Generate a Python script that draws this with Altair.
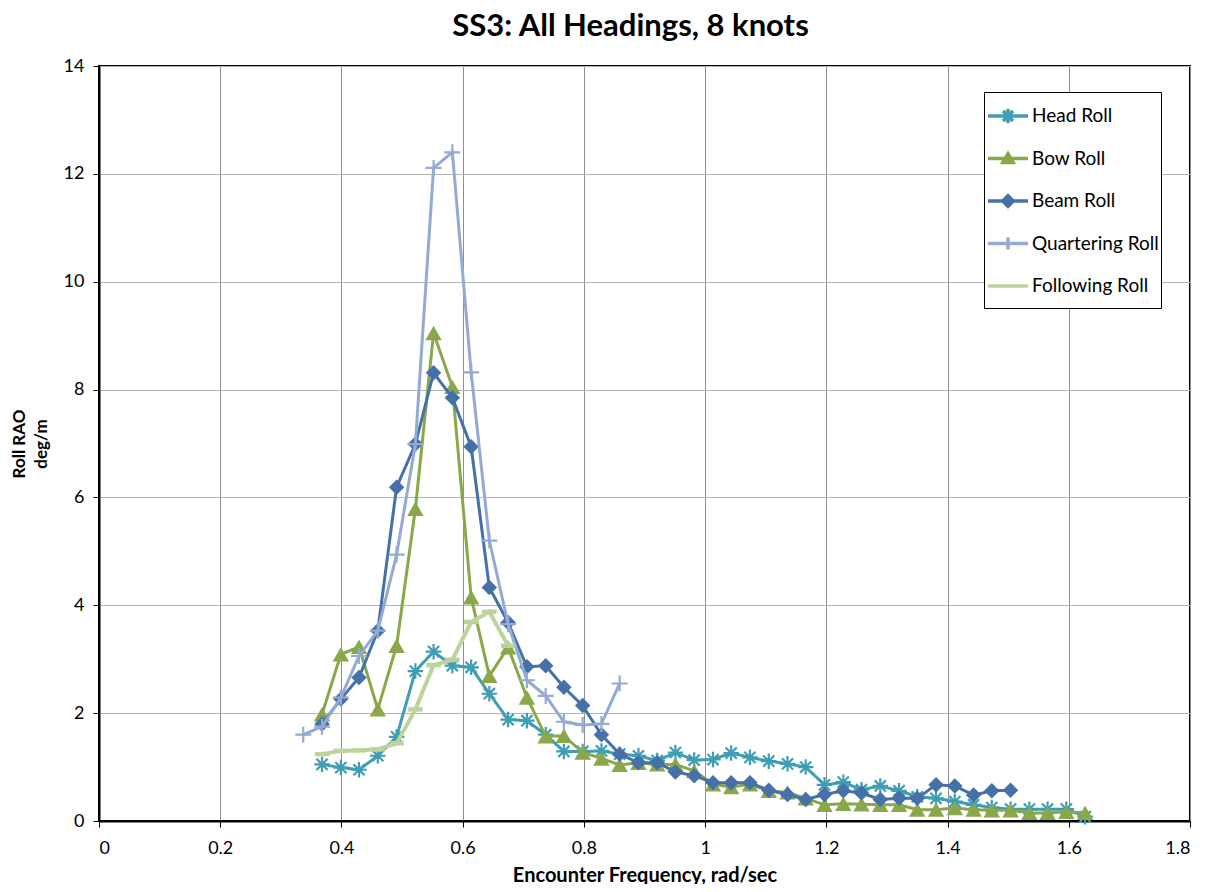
import altair as alt
import pandas as pd

# ---------------- data ----------------
series_names = ["Head Roll", "Bow Roll", "Beam Roll", "Quartering Roll", "Following Roll"]
series_colors = ["#3F9DB4", "#8AA74A", "#4571A8", "#94AAD3", "#BCD49C"]

head_freq = [0.368, 0.399, 0.429, 0.460, 0.491, 0.522, 0.552, 0.583, 0.614, 0.644,
             0.675, 0.706, 0.737, 0.767, 0.798, 0.829, 0.859, 0.890, 0.921, 0.951,
             0.982, 1.013, 1.043, 1.074, 1.105, 1.136, 1.166, 1.197, 1.228, 1.258,
             1.289, 1.320, 1.350, 1.381, 1.412, 1.443, 1.473, 1.504, 1.535, 1.565,
             1.596, 1.627]
head_rao = [1.05, 0.99, 0.95, 1.21, 1.56, 2.78, 3.14, 2.88, 2.85, 2.36,
            1.88, 1.86, 1.60, 1.29, 1.29, 1.30, 1.24, 1.21, 1.12, 1.27,
            1.13, 1.14, 1.26, 1.18, 1.11, 1.06, 1.00, 0.67, 0.72, 0.58,
            0.65, 0.56, 0.45, 0.42, 0.36, 0.30, 0.25, 0.22, 0.22, 0.22,
            0.22, 0.08]

bow_freq = [0.368, 0.399, 0.429, 0.460, 0.491, 0.522, 0.552, 0.583, 0.614, 0.644,
            0.675, 0.706, 0.737, 0.767, 0.798, 0.829, 0.859, 0.890, 0.921, 0.951,
            0.982, 1.013, 1.043, 1.074, 1.105, 1.136, 1.166, 1.197, 1.228, 1.258,
            1.289, 1.320, 1.350, 1.381, 1.412, 1.443, 1.473, 1.504, 1.535, 1.565,
            1.596, 1.627]
bow_rao = [1.98, 3.09, 3.23, 2.07, 3.25, 5.79, 9.05, 8.05, 4.15, 2.69,
           3.22, 2.29, 1.57, 1.58, 1.27, 1.16, 1.04, 1.08, 1.05, 1.05,
           0.93, 0.68, 0.63, 0.68, 0.56, 0.53, 0.42, 0.30, 0.32, 0.31,
           0.30, 0.30, 0.21, 0.21, 0.24, 0.21, 0.20, 0.20, 0.15, 0.15,
           0.17, 0.15]

beam_freq = [0.368, 0.399, 0.429, 0.460, 0.491, 0.522, 0.552, 0.583, 0.614, 0.644,
             0.675, 0.706, 0.737, 0.767, 0.798, 0.829, 0.859, 0.890, 0.921, 0.951,
             0.982, 1.013, 1.043, 1.074, 1.105, 1.136, 1.166, 1.197, 1.228, 1.258,
             1.289, 1.320, 1.350, 1.381, 1.412, 1.443, 1.473, 1.504]
beam_rao = [1.80, 2.26, 2.66, 3.53, 6.19, 6.99, 8.31, 7.85, 6.94, 4.33,
            3.68, 2.86, 2.88, 2.48, 2.14, 1.60, 1.24, 1.08, 1.08, 0.91,
            0.84, 0.71, 0.71, 0.71, 0.57, 0.49, 0.40, 0.49, 0.56, 0.52,
            0.40, 0.42, 0.42, 0.67, 0.65, 0.48, 0.56, 0.57]

quartering_freq = [0.337, 0.368, 0.399, 0.429, 0.460, 0.491, 0.522, 0.552, 0.583,
                   0.614, 0.644, 0.675, 0.706, 0.737, 0.767, 0.798, 0.829, 0.859]
quartering_rao = [1.60, 1.75, 2.29, 3.06, 3.53, 4.94, 6.99, 12.11, 12.40,
                  8.32, 5.20, 3.65, 2.61, 2.32, 1.84, 1.78, 1.80, 2.55]

following_freq = [0.368, 0.399, 0.429, 0.460, 0.491, 0.522, 0.552, 0.583, 0.614,
                  0.644, 0.675]
following_rao = [1.24, 1.30, 1.31, 1.33, 1.44, 2.07, 2.89, 2.99, 3.69,
                 3.88, 3.25]

x_ticks = [0, 0.2, 0.4, 0.6, 0.8, 1.0, 1.2, 1.4, 1.6, 1.8]
y_ticks = [0, 2, 4, 6, 8, 10, 12, 14]

# ---------------- marker styles ----------------
marker_paths = {
    "Head Roll": "M-1,0L1,0M0,-1L0,1M-0.72,-0.72L0.72,0.72M-0.72,0.72L0.72,-0.72",
    "Bow Roll": "M0,-0.875L1,0.875L-1,0.875Z",
    "Beam Roll": "M0,-1L1,0L0,1L-1,0Z",
    "Quartering Roll": "M-1,0L1,0M0,-1L0,1",
    "Following Roll": "M-1,0L1,0",
}
marker_filled = {"Head Roll": False, "Bow Roll": True, "Beam Roll": True,
                 "Quartering Roll": False, "Following Roll": False}
marker_size = {"Head Roll": 240, "Bow Roll": 270, "Beam Roll": 240,
               "Quartering Roll": 256, "Following Roll": 210}
marker_stroke = {"Head Roll": 2.2, "Bow Roll": 1, "Beam Roll": 1,
                 "Quartering Roll": 2.2, "Following Roll": 4.5}
line_width = {"Head Roll": 3, "Bow Roll": 3, "Beam Roll": 3,
              "Quartering Roll": 3, "Following Roll": 4}

# legend symbols: a line with the marker in its middle; the zero-length end
# strokes give every symbol the same height so the rows are evenly spaced
pad_v = "M0,-0.64L0,-0.64M0,0.64L0,0.64"
legend_paths = [
    "M-1,0L1,0M0,-0.35L0,0.35M-0.25,-0.25L0.25,0.25M-0.25,0.25L0.25,-0.25" + pad_v,
    "M-1,0L1,0M0,-0.24L0.26,0.2L-0.26,0.2ZM0,-0.1L0.12,0.12L-0.12,0.12Z" + pad_v,
    "M-1,0L1,0M0,-0.26L0.26,0L0,0.26L-0.26,0ZM0,-0.1L0.1,0L0,0.1L-0.1,0Z" + pad_v,
    "M-1,0L1,0M0,-0.3L0,0.3" + pad_v,
    "M-1,0L1,0" + pad_v,
]

# ---------------- table ----------------
parts = []
for name, f, r in [("Head Roll", head_freq, head_rao),
                   ("Bow Roll", bow_freq, bow_rao),
                   ("Beam Roll", beam_freq, beam_rao),
                   ("Quartering Roll", quartering_freq, quartering_rao),
                   ("Following Roll", following_freq, following_rao)]:
    parts.append(pd.DataFrame({"series": name, "freq": f, "rao": r}))
df = pd.concat(parts, ignore_index=True)

FONT = "Lato"

x_enc = alt.X(
    "freq:Q",
    scale=alt.Scale(domain=[0, 1.8], nice=False, zero=False),
    axis=alt.Axis(values=x_ticks, format="~g", title="Encounter Frequency, rad/sec",
                  grid=True, gridColor="#8F8F8F", titlePadding=8, labelPadding=12),
)
y_enc = alt.Y(
    "rao:Q",
    scale=alt.Scale(domain=[0, 14], nice=False),
    axis=alt.Axis(values=y_ticks, title=["Roll RAO", "deg/m"], grid=True,
                  gridColor="#B4B4B4", titlePadding=13, labelPadding=9,
                  titleLineHeight=22, titleFontSize=17),
)

color_scale = alt.Scale(domain=series_names, range=series_colors)

layers = []
for name, col in zip(series_names, series_colors):
    base = alt.Chart(df).transform_filter(alt.datum.series == name)
    line = base.mark_line(strokeWidth=line_width[name], color=col).encode(x=x_enc, y=y_enc)
    if marker_filled[name]:
        pts = base.mark_point(shape=marker_paths[name], filled=True, size=marker_size[name],
                              color=col, opacity=1)
    else:
        pts = base.mark_point(shape=marker_paths[name], filled=False, size=marker_size[name],
                              color=col, opacity=1, strokeWidth=marker_stroke[name],
                              strokeCap="butt")
    pts = pts.encode(x=x_enc, y=y_enc)
    layers += [line, pts]

# legend layer: rows carry no values, so nothing is drawn; only the legend appears
legend_df = pd.DataFrame({"series": series_names,
                          "freq": [float("nan")] * 5,
                          "rao": [float("nan")] * 5})
legend_props = dict(
    title=None, orient="none", legendX=885, legendY=26,
    strokeColor="black", fillColor="white", padding=2,
    symbolSize=1600, symbolStrokeWidth=3.5, rowPadding=0.5,
    labelFont=FONT, labelFontSize=19, labelColor="black", labelOffset=2,
    symbolOpacity=1,
)
legend_layer = alt.Chart(legend_df).mark_point(filled=False, opacity=1, strokeWidth=3.5).encode(
    x=x_enc, y=y_enc,
    color=alt.Color("series:N", scale=color_scale, legend=alt.Legend(**legend_props)),
    shape=alt.Shape("series:N", scale=alt.Scale(domain=series_names, range=legend_paths),
                    legend=alt.Legend(**legend_props)),
)
layers.append(legend_layer)

chart = alt.layer(*layers).properties(
    width=1091, height=755,
    padding={"left": 91, "top": 58, "right": 5, "bottom": 63},
    autosize=alt.AutoSizeParams(type="none"),
    title=alt.TitleParams("SS3: All Headings, 8 knots", font=FONT, fontSize=31,
                          fontWeight="bold", color="black", anchor="middle",
                          dx=-14, offset=14),
).configure_view(
    stroke="black", strokeWidth=2
).configure_axis(
    domainColor="black", domainWidth=2, tickColor="black", tickSize=6, tickWidth=1,
    labelFont=FONT, labelFontSize=18, labelColor="black",
    titleFont=FONT, titleFontSize=20, titleFontWeight="bold", titleColor="black",
    gridWidth=1,
)

chart.save("out.html", embed_options={"renderer": "svg", "actions": False})
